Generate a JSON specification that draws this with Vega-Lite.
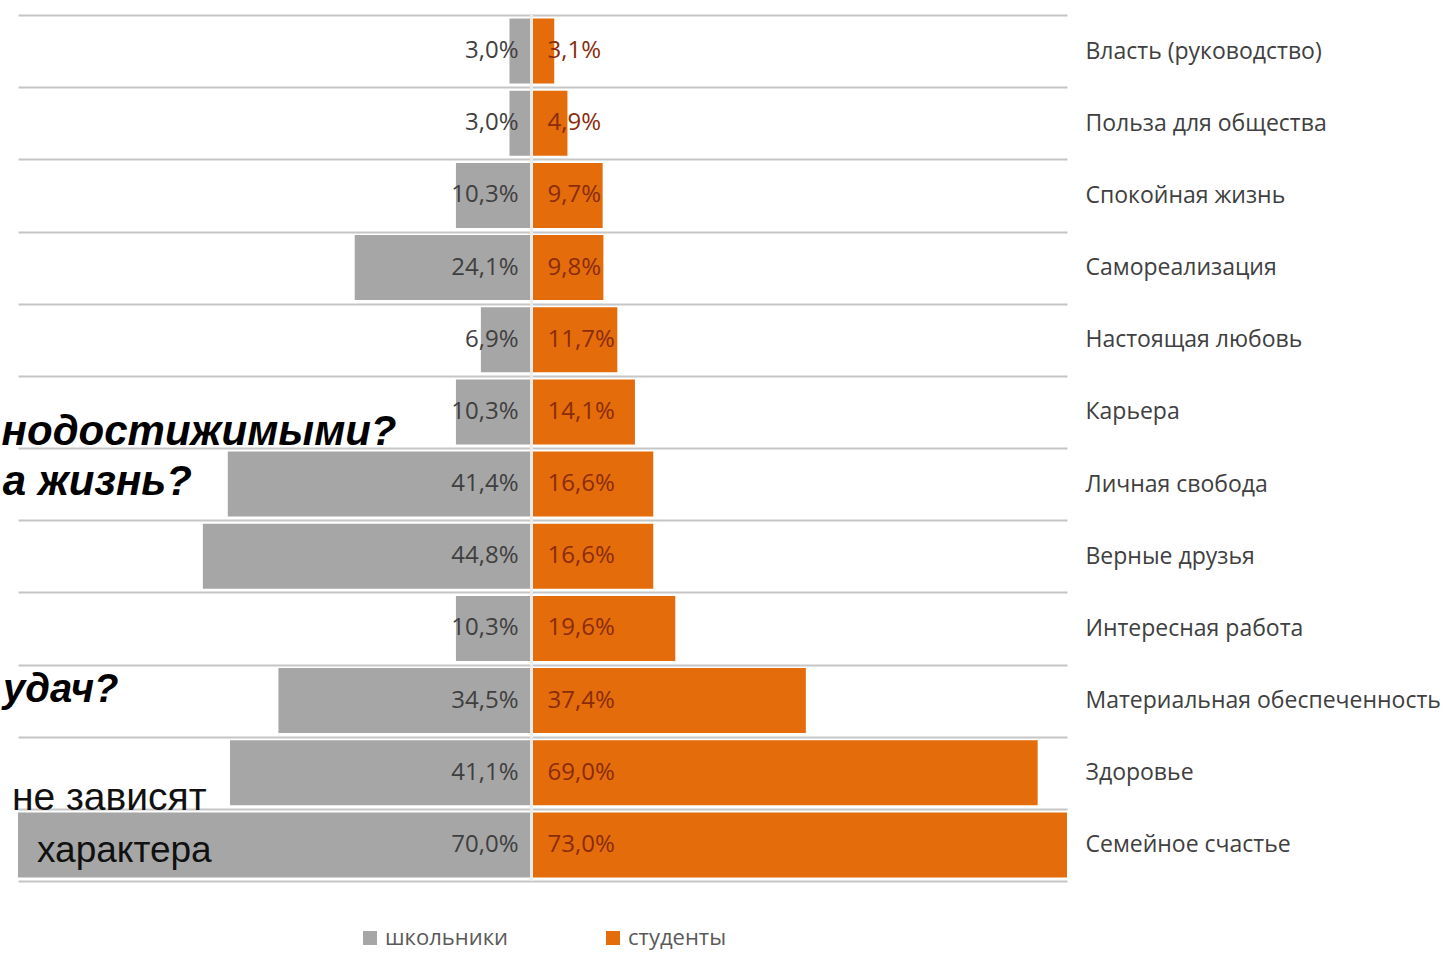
{
  "$schema": "https://vega.github.io/schema/vega-lite/v6.json",
  "width": 1049,
  "height": 866,
  "autosize": {"type": "none"},
  "padding": {"left": 18, "top": 15, "right": 375, "bottom": 72},
  "background": "white",
  "config": {
    "view": {"stroke": null},
    "font": "Open Sans",
    "legend": {"layout": {"bottom": {"anchor": "middle"}}}
  },
  "data": {"values": [
    {"category": "Власть (руководство)", "group": "школьники", "value": 3.0},
    {"category": "Власть (руководство)", "group": "студенты", "value": 3.1},
    {"category": "Польза для общества", "group": "школьники", "value": 3.0},
    {"category": "Польза для общества", "group": "студенты", "value": 4.9},
    {"category": "Спокойная жизнь", "group": "школьники", "value": 10.3},
    {"category": "Спокойная жизнь", "group": "студенты", "value": 9.7},
    {"category": "Самореализация", "group": "школьники", "value": 24.1},
    {"category": "Самореализация", "group": "студенты", "value": 9.8},
    {"category": "Настоящая любовь", "group": "школьники", "value": 6.9},
    {"category": "Настоящая любовь", "group": "студенты", "value": 11.7},
    {"category": "Карьера", "group": "школьники", "value": 10.3},
    {"category": "Карьера", "group": "студенты", "value": 14.1},
    {"category": "Личная свобода", "group": "школьники", "value": 41.4},
    {"category": "Личная свобода", "group": "студенты", "value": 16.6},
    {"category": "Верные друзья", "group": "школьники", "value": 44.8},
    {"category": "Верные друзья", "group": "студенты", "value": 16.6},
    {"category": "Интересная работа", "group": "школьники", "value": 10.3},
    {"category": "Интересная работа", "group": "студенты", "value": 19.6},
    {"category": "Материальная обеспеченность", "group": "школьники", "value": 34.5},
    {"category": "Материальная обеспеченность", "group": "студенты", "value": 37.4},
    {"category": "Здоровье", "group": "школьники", "value": 41.1},
    {"category": "Здоровье", "group": "студенты", "value": 69.0},
    {"category": "Семейное счастье", "group": "школьники", "value": 70.0},
    {"category": "Семейное счастье", "group": "студенты", "value": 73.0}
  ]},
  "transform": [
    {"calculate": "datum.group === 'школьники' ? -datum.value : datum.value", "as": "signed"},
    {"calculate": "replace(format(datum.value, '.1f'), '.', ',') + '%'", "as": "label"}
  ],
  "layer": [
    {
      "mark": {"type": "bar", "height": {"band": 0.9}},
      "encoding": {
        "y": {
          "field": "category", "type": "nominal",
          "scale": {
            "domain": ["Власть (руководство)", "Польза для общества", "Спокойная жизнь", "Самореализация", "Настоящая любовь", "Карьера", "Личная свобода", "Верные друзья", "Интересная работа", "Материальная обеспеченность", "Здоровье", "Семейное счастье"],
            "paddingInner": 0, "paddingOuter": 0
          },
          "axis": {
            "orient": "right", "title": null, "domain": false, "ticks": false,
            "labelPadding": 18, "labelFontSize": 23, "labelColor": "#404040", "labelFont": "Open Sans",
            "labelAlign": "left", "labelLimit": 0,
            "grid": true, "gridColor": "#c6c6c6", "gridWidth": 2.2, "tickBand": "extent"
          }
        },
        "x": {"field": "signed", "type": "quantitative", "scale": {"domain": [-70, 73], "nice": false, "zero": true}, "axis": null},
        "color": {
          "field": "group", "type": "nominal",
          "scale": {"domain": ["школьники", "студенты"], "range": ["#a6a6a6", "#e46c0a"]},
          "legend": {
            "orient": "bottom", "direction": "horizontal", "title": null,
            "symbolType": "square", "symbolSize": 196, "symbolStrokeWidth": 0,
            "labelFontSize": 22, "labelColor": "#5a5a5a", "labelFont": "Open Sans", "labelOffset": 4,
            "columnPadding": 94, "offset": 46
          }
        }
      }
    },
    {
      "mark": {"type": "rule", "color": "#ececec", "strokeWidth": 1.5},
      "encoding": {"x": {"datum": 0}}
    },
    {
      "transform": [{"filter": "datum.group === 'школьники'"}],
      "mark": {"type": "text", "align": "right", "baseline": "middle", "dx": -13, "fontSize": 24, "color": "#3f3f3f", "font": "Open Sans"},
      "encoding": {
        "y": {"field": "category", "type": "nominal"},
        "x": {"datum": 0},
        "text": {"field": "label"}
      }
    },
    {
      "transform": [{"filter": "datum.group === 'студенты'"}],
      "mark": {"type": "text", "align": "left", "baseline": "middle", "dx": 16, "fontSize": 24, "color": "#8a2c0c", "font": "Open Sans"},
      "encoding": {
        "y": {"field": "category", "type": "nominal"},
        "x": {"datum": 0},
        "text": {"field": "label"}
      }
    },
    {
      "data": {"values": [{}]},
      "mark": {"type": "text", "text": "нодостижимыми?", "align": "right", "baseline": "alphabetic", "dy": 33, "fontSize": 42, "fontWeight": "bold", "fontStyle": "italic", "font": "Liberation Sans", "color": "#000000"},
      "encoding": {"x": {"datum": -18.4}, "y": {"datum": "Карьера"}}
    },
    {
      "data": {"values": [{}]},
      "mark": {"type": "text", "text": "а жизнь?", "align": "right", "baseline": "alphabetic", "dy": 11, "fontSize": 42, "fontWeight": "bold", "fontStyle": "italic", "font": "Liberation Sans", "color": "#000000"},
      "encoding": {"x": {"datum": -46.3}, "y": {"datum": "Личная свобода"}}
    },
    {
      "data": {"values": [{}]},
      "mark": {"type": "text", "text": "удач?", "align": "right", "baseline": "alphabetic", "dy": 1, "fontSize": 40, "fontWeight": "bold", "fontStyle": "italic", "font": "Liberation Sans", "color": "#000000"},
      "encoding": {"x": {"datum": -56.3}, "y": {"datum": "Материальная обеспеченность"}}
    },
    {
      "data": {"values": [{}]},
      "mark": {"type": "text", "text": "не зависят", "align": "right", "baseline": "alphabetic", "dy": 37, "fontSize": 39, "font": "Liberation Sans", "color": "#111111"},
      "encoding": {"x": {"datum": -44.3}, "y": {"datum": "Здоровье"}}
    },
    {
      "data": {"values": [{}]},
      "mark": {"type": "text", "text": "характера", "align": "right", "baseline": "alphabetic", "dy": 17, "fontSize": 37, "font": "Liberation Sans", "color": "#111111"},
      "encoding": {"x": {"datum": -43.6}, "y": {"datum": "Семейное счастье"}}
    }
  ]
}
